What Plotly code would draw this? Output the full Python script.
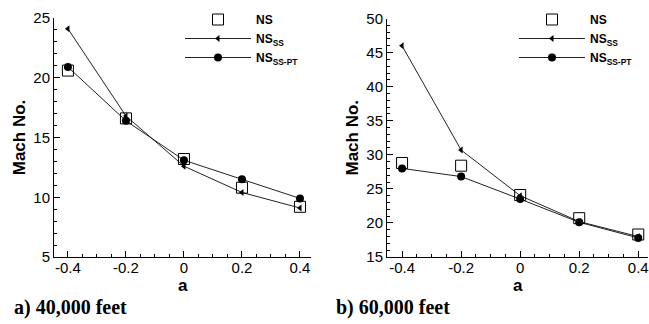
import plotly.graph_objects as go

a_vals = [-0.4, -0.2, 0.0, 0.2, 0.4]

# 40,000 feet
ns_40 = [20.6, 16.6, 13.2, 10.8, 9.2]
ss_40 = [24.1, 16.8, 12.6, 10.4, 9.1]
sspt_40 = [20.9, 16.4, 13.1, 11.5, 9.9]

# 60,000 feet
ns_60 = [28.8, 28.4, 24.1, 20.7, 18.3]
ss_60 = [46.0, 30.7, 24.0, 20.2, 18.0]
sspt_60 = [28.0, 26.8, 23.5, 20.1, 17.8]

x_ticks = [-0.4, -0.2, 0, 0.2, 0.4]
x_ticktext = ["-0.4", "-0.2", "0", "0.2", "0.4"]
y_ticks_40 = [5, 10, 15, 20, 25]
y_ticks_60 = [15, 20, 25, 30, 35, 40, 45, 50]

names = ["<b>NS</b>", "<b>NS<sub>SS</sub></b>", "<b>NS<sub>SS-PT</sub></b>"]
captions = ["<b>a) 40,000 feet</b>", "<b>b) 60,000 feet</b>"]
x_title = "<b>a</b>"
y_title = "<b>Mach No.</b>"

W, H = 649, 324
LINE = "#222222"
FONT = "Liberation Sans, Arial, sans-serif"

fig = go.Figure()

def add_set(ns, ss, sspt, xa, ya, leg):
    fig.add_trace(go.Scatter(x=a_vals, y=sspt, mode="lines+markers", name=names[2],
                             line=dict(color=LINE, width=1),
                             marker=dict(symbol="circle", size=8, color="black"),
                             xaxis=xa, yaxis=ya, legend=leg, legendrank=3))
    fig.add_trace(go.Scatter(x=a_vals, y=ss, mode="lines+markers", name=names[1],
                             line=dict(color=LINE, width=1),
                             marker=dict(symbol="triangle-left", size=6, color="black"),
                             xaxis=xa, yaxis=ya, legend=leg, legendrank=2))
    fig.add_trace(go.Scatter(x=a_vals, y=ns, mode="markers", name=names[0],
                             marker=dict(symbol="square-open", size=11, color="black",
                                         line=dict(width=1, color="black")),
                             xaxis=xa, yaxis=ya, legend=leg, legendrank=1))

add_set(ns_40, ss_40, sspt_40, "x", "y", "legend")
add_set(ns_60, ss_60, sspt_60, "x2", "y2", "legend2")

def px_x(p):
    return p / W

def px_y(p):
    return 1 - p / H

axis_common = dict(showline=True, linecolor="black", linewidth=1, ticks="inside",
                   ticklen=6, tickcolor="black", tickwidth=1, showgrid=False,
                   zeroline=False, tickfont=dict(family=FONT, size=15, color="black"),
                   mirror=False, automargin=False, ticklabeloverflow="allow")

xcommon = dict(axis_common, tickvals=x_ticks, ticktext=x_ticktext, ticklabelstandoff=-3,
               minor=dict(ticks="inside", ticklen=3, dtick=0.05, tick0=0, tickcolor="black"))

fig.update_layout(
    width=W, height=H,
    margin=dict(l=0, r=0, t=0, b=0, autoexpand=False),
    paper_bgcolor="white", plot_bgcolor="white",
    xaxis=dict(xcommon, domain=[px_x(54), px_x(311)], range=[-0.448, 0.438], anchor="y"),
    yaxis=dict(axis_common, domain=[px_y(257), px_y(18)], range=[5, 25], tickvals=y_ticks_40,
               minor=dict(ticks="inside", ticklen=3, dtick=1, tick0=0, tickcolor="black"),
               title=dict(text=y_title, font=dict(family=FONT, size=17, color="black"),
                          standoff=3),
               anchor="x"),
    xaxis2=dict(xcommon, domain=[px_x(387), px_x(648)], range=[-0.451, 0.433], anchor="y2"),
    yaxis2=dict(axis_common, domain=[px_y(257), px_y(18.5)], range=[15, 50], tickvals=y_ticks_60,
                minor=dict(ticks="inside", ticklen=3, dtick=1, tick0=0, tickcolor="black"),
                title=dict(text=y_title, font=dict(family=FONT, size=17, color="black"),
                           standoff=3),
                anchor="x2"),
    legend=dict(x=px_x(180), y=px_y(5), xanchor="left", yanchor="top",
                bgcolor="rgba(0,0,0,0)", itemwidth=66, tracegroupgap=0,
                font=dict(family=FONT, size=12, color="black")),
    legend2=dict(x=px_x(514), y=px_y(5), xanchor="left", yanchor="top",
                 bgcolor="rgba(0,0,0,0)", itemwidth=66, tracegroupgap=0,
                 font=dict(family=FONT, size=12, color="black")),
    showlegend=True,
)

for cx in [182.5, 517.5]:
    fig.add_annotation(text=x_title, x=px_x(cx), y=px_y(285), xref="paper", yref="paper",
                       xanchor="center", yanchor="middle", showarrow=False,
                       font=dict(family=FONT, size=17, color="black"))

for cap, lx in zip(captions, [12, 334]):
    fig.add_annotation(text=cap, x=px_x(lx), y=px_y(307), xref="paper", yref="paper",
                       xanchor="left", yanchor="middle", showarrow=False,
                       font=dict(family="Liberation Serif, Times New Roman, serif", size=20, color="black"))

fig.write_html("out.html", post_script="document.body.style.margin='0';",
               config={"displayModeBar": False})
